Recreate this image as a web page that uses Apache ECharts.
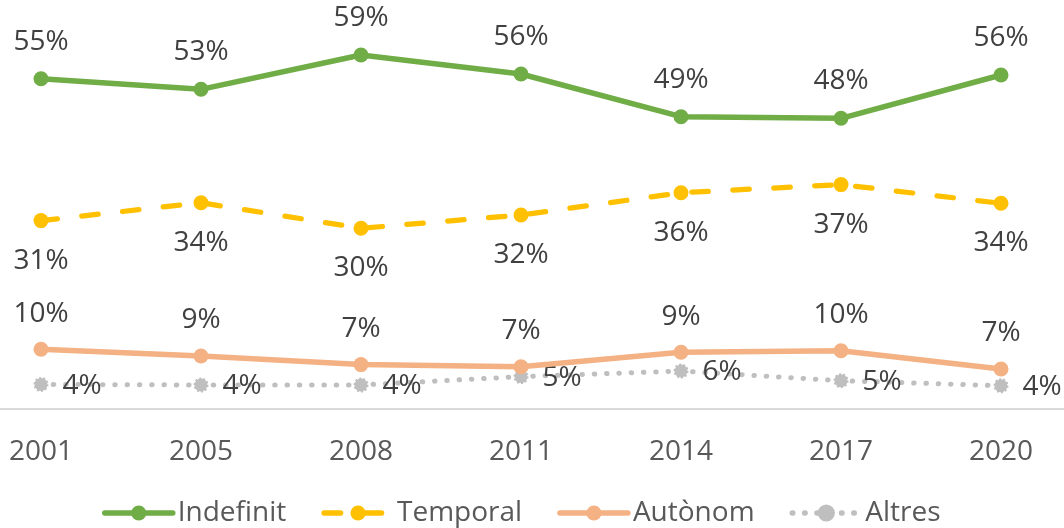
<!DOCTYPE html>
<html>
<head>
<meta charset="utf-8">
<script src="https://cdn.jsdelivr.net/npm/echarts@6/dist/echarts.min.js"></script>
<style>
html,body{margin:0;padding:0;background:#fff;}
#chart{width:1064px;height:528px;}
</style>
</head>
<body>
<div id="chart"></div>
<script>
var categories = ['2001', '2005', '2008', '2011', '2014', '2017', '2020'];
var seriesNames = ['Indefinit', 'Temporal', 'Autònom', 'Altres'];
var indefinit = [55.05, 53.28, 59.0, 55.83, 48.72, 48.45, 55.67];
var temporal = [31.4, 34.38, 30.12, 32.33, 36.05, 37.4, 34.28];
var autonom = [9.95, 8.83, 7.4, 7.05, 9.45, 9.72, 6.67];
var altres = [4.1, 4.0, 4.0, 5.4, 6.33, 4.72, 3.88];

var FONT = '"Open Sans", "Noto Sans", sans-serif';
function pct(p) { return Math.round(p.value) + '%'; }
function lbl(offset) {
  return {
    show: true, position: 'inside', offset: offset, formatter: pct,
    color: '#404040', fontFamily: FONT, fontSize: 28
  };
}

var chart = echarts.init(document.getElementById('chart'), null, {renderer: 'canvas'});
chart.setOption({
  animation: false,
  backgroundColor: '#ffffff',
  grid: [
    {left: 41, right: 63, top: 49, bottom: 119, containLabel: false},
    {left: 0, right: 0, top: 49, bottom: 119, containLabel: false}
  ],
  legend: {
    data: seriesNames,
    left: 97, top: 494,
    itemWidth: 68, itemHeight: 19, itemGap: 35,
    lineStyle: {width: 5.5},
    textStyle: {color: '#595959', fontFamily: FONT, fontSize: 28}
  },
  xAxis: [
    {
      type: 'category', data: categories, boundaryGap: false, gridIndex: 0,
      axisLine: {show: false},
      axisTick: {show: false},
      axisLabel: {color: '#595959', fontFamily: FONT, fontSize: 28, margin: 29},
      splitLine: {show: false}
    },
    {
      type: 'category', data: categories, boundaryGap: true, gridIndex: 1,
      axisLine: {show: true, lineStyle: {color: '#D9D9D9', width: 2}},
      axisTick: {show: false},
      axisLabel: {show: false},
      splitLine: {show: false}
    }
  ],
  yAxis: [
    {type: 'value', min: 0, max: 60, show: false, gridIndex: 0, splitLine: {show: false}},
    {type: 'value', min: 0, max: 60, show: false, gridIndex: 1, splitLine: {show: false}}
  ],
  series: [
    {
      name: 'Indefinit', type: 'line', data: indefinit,
      symbol: 'circle', symbolSize: 15,
      lineStyle: {color: '#70AD47', width: 5.5, cap: 'round', join: 'round'},
      itemStyle: {color: '#70AD47'},
      label: lbl([0, -37]), z: 4
    },
    {
      name: 'Temporal', type: 'line', data: temporal,
      symbol: 'circle', symbolSize: 15,
      lineStyle: {color: '#FFC000', width: 5.25, type: [16.5, 24.5], cap: 'round'},
      itemStyle: {color: '#FFC000'},
      label: lbl([0, 40]), z: 3
    },
    {
      name: 'Autònom', type: 'line', data: autonom,
      symbol: 'circle', symbolSize: 15,
      lineStyle: {color: '#F4B183', width: 5.5, cap: 'round', join: 'round'},
      itemStyle: {color: '#F4B183'},
      label: lbl([0, -35.5]), z: 3
    },
    {
      name: 'Altres', type: 'line', data: altres,
      symbol: 'circle', symbolSize: 13,
      lineStyle: {color: '#BFBFBF', width: 5, type: [0.5, 11.8], cap: 'round'},
      itemStyle: {color: '#BFBFBF', borderColor: '#BFBFBF', borderWidth: 2, borderType: [2, 2]},
      label: lbl([41, 1.5]), z: 2
    }
  ]
});
</script>
</body>
</html>
